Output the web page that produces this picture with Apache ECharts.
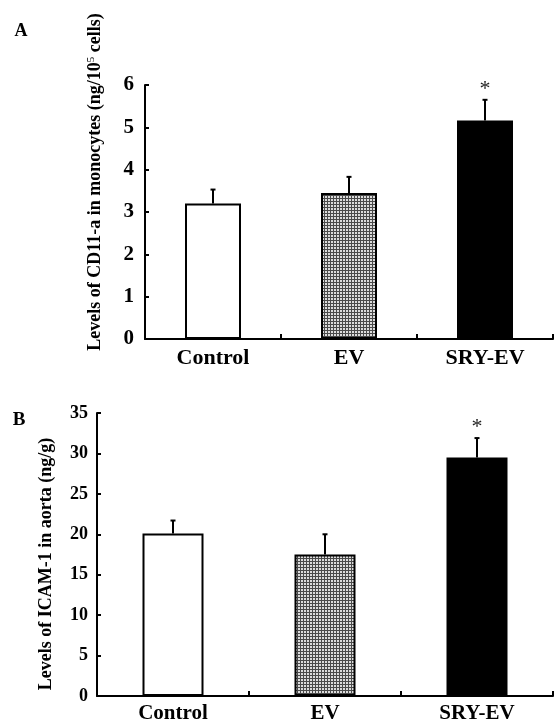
<!DOCTYPE html>
<html><head><meta charset="utf-8">
<script src="https://cdn.jsdelivr.net/npm/echarts@6/dist/echarts.min.js"></script>
<style>html,body{margin:0;padding:0;background:#fff}#c{width:555px;height:724px}</style>
</head><body><div id="c"></div>
<script>
// ---- data ----
const categories = ['Control', 'EV', 'SRY-EV'];
const cd11aMean = [3.2, 3.45, 5.16];
const cd11aErr = [0.33, 0.38, 0.49];
const icamMean = [20.1, 17.5, 29.5];
const icamErr = [1.6, 2.5, 2.4];
const significance = ['', '', '*'];
const yTicksA = [0, 1, 2, 3, 4, 5, 6];
const yTicksB = [0, 5, 10, 15, 20, 25, 30, 35];

const FONT = "'Liberation Serif','Times New Roman',serif";

// crosshatch pattern for EV bar
const pc = document.createElement('canvas');
pc.width = 3; pc.height = 3;
const ctx = pc.getContext('2d');
ctx.fillStyle = '#dcdcdc'; ctx.fillRect(0, 0, 3, 3);
ctx.fillStyle = '#4a4a4a'; ctx.fillRect(0, 0, 3, 1); ctx.fillRect(0, 0, 1, 3);
const hatch = { image: pc, repeat: 'repeat' };
const fills = ['#ffffff', hatch, '#000000'];

function barData(vals) {
  return vals.map((v, i) => ({ value: v, itemStyle: { color: fills[i] } }));
}
function errData(means, errs) {
  return means.map((m, i) => [i, m, errs[i]]);
}
function renderErr(params, api) {
  const x = api.value(0), m = api.value(1), e = api.value(2);
  const p0 = api.coord([x, m]);
  const p1 = api.coord([x, m + e]);
  const children = [
    { type: 'line', shape: { x1: p0[0], y1: p0[1], x2: p1[0], y2: p1[1] }, style: { stroke: '#000', lineWidth: 2 } },
    { type: 'line', shape: { x1: p1[0] - 2.5, y1: p1[1], x2: p1[0] + 2.5, y2: p1[1] }, style: { stroke: '#000', lineWidth: 2 } }
  ];
  const star = significance[params.dataIndex];
  if (star) {
    children.push({ type: 'text', x: p1[0], y: p1[1] - 11, style: { text: star, font: "22px " + FONT, fill: '#222', align: 'center', verticalAlign: 'middle' } });
  }
  return { type: 'group', children };
}

function yAxis(gridIndex, ticks, fs, margin) {
  return {
    gridIndex, type: 'value', min: ticks[0], max: ticks[ticks.length - 1], interval: ticks[1] - ticks[0],
    axisLine: { show: true, lineStyle: { color: '#000', width: 2 } },
    axisTick: { show: true, inside: true, length: 4, lineStyle: { color: '#000', width: 2 } },
    splitLine: { show: false },
    axisLabel: { color: '#000', fontFamily: FONT, fontWeight: 'bold', fontSize: fs, margin }
  };
}
function xAxis(gridIndex, fs, margin) {
  return {
    gridIndex, type: 'category', data: categories,
    axisLine: { show: true, lineStyle: { color: '#000', width: 2 } },
    axisTick: { show: true, inside: true, length: 5, lineStyle: { color: '#000', width: 2 } },
    axisLabel: { color: '#000', fontFamily: FONT, fontWeight: 'bold', fontSize: fs, margin }
  };
}

const chart = echarts.init(document.getElementById('c'), null, { renderer: 'canvas' });
chart.setOption({
  animation: false,
  backgroundColor: '#fff',
  grid: [
    { left: 145, top: 85, width: 408, height: 254 },
    { left: 97, top: 413, width: 456, height: 287 }
  ],
  xAxis: [xAxis(0, 22, 8), xAxis(1, 21, 7)],
  yAxis: [yAxis(0, yTicksA, 21, 11), yAxis(1, yTicksB, 18, 9)],
  series: [
    { type: 'bar', xAxisIndex: 0, yAxisIndex: 0, data: barData(cd11aMean), barWidth: 56,
      itemStyle: { borderColor: '#000', borderWidth: 2 } },
    { type: 'custom', xAxisIndex: 0, yAxisIndex: 0, data: errData(cd11aMean, cd11aErr), renderItem: renderErr, z: 3 },
    { type: 'bar', xAxisIndex: 1, yAxisIndex: 1, data: barData(icamMean), barWidth: 61,
      itemStyle: { borderColor: '#000', borderWidth: 2 } },
    { type: 'custom', xAxisIndex: 1, yAxisIndex: 1, data: errData(icamMean, icamErr), renderItem: renderErr, z: 3 }
  ],
  graphic: [
    { type: 'text', x: 21, y: 31, style: { text: 'A', font: "bold 18px " + FONT, fill: '#000', align: 'center', verticalAlign: 'middle' } },
    { type: 'text', x: 19, y: 420, style: { text: 'B', font: "bold 19px " + FONT, fill: '#000', align: 'center', verticalAlign: 'middle' } },
    { type: 'text', x: 95, y: 182, rotation: Math.PI / 2,
      style: { text: 'Levels of CD11-a in monocytes (ng/10{sup|5} cells)', font: "bold 18px " + FONT, fill: '#000', align: 'center', verticalAlign: 'middle',
        rich: { sup: { fontFamily: FONT, fontWeight: 'normal', fontSize: 11, verticalAlign: 'top', padding: [0, 0, 6, 0] } } } },
    { type: 'text', x: 46, y: 564, rotation: Math.PI / 2,
      style: { text: 'Levels of ICAM-1 in aorta (ng/g)', font: "bold 18px " + FONT, fill: '#000', align: 'center', verticalAlign: 'middle' } }
  ]
});
</script>
</body></html>
